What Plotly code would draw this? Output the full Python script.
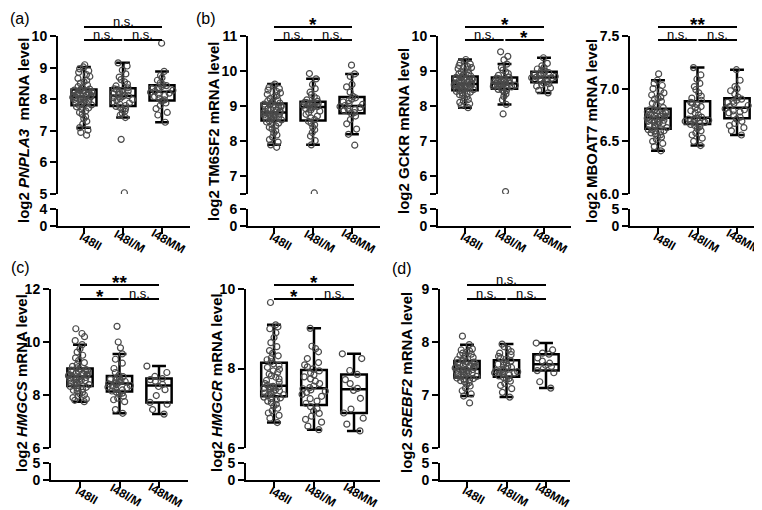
import plotly.graph_objects as go

CATS = ["I48II", "I48I/M", "I48MM"]

# ---------------- data (log2 mRNA levels) ----------------
pnpla3_ii = [6.86, 6.95, 7.02, 7.10, 7.21, 7.30, 7.38, 7.45, 7.52, 7.58, 7.63, 7.68, 7.72, 7.76, 7.80,
             7.82, 7.84, 7.87, 7.89, 7.91, 7.93, 7.95, 7.97, 7.99, 8.00, 8.02, 8.03, 8.04, 8.05, 8.06,
             8.08, 8.10, 8.12, 8.13, 8.15, 8.17, 8.19, 8.20, 8.22, 8.24, 8.25, 8.27, 8.28, 8.29, 8.30,
             8.32, 8.36, 8.40, 8.45, 8.50, 8.55, 8.60, 8.66, 8.72, 8.78, 8.85, 8.90, 8.96, 9.02, 9.09]
pnpla3_im = [5.04, 6.73, 7.42, 7.50, 7.56, 7.62, 7.66, 7.70, 7.74, 7.77,
             7.80, 7.84, 7.88, 7.92, 7.96, 7.99, 8.02, 8.05, 8.07, 8.09,
             8.11, 8.13, 8.16, 8.18, 8.21, 8.23, 8.26, 8.28, 8.31, 8.33,
             8.36, 8.42, 8.48, 8.55, 8.62, 8.70, 8.80, 8.92, 9.05, 9.15]
pnpla3_mm = [7.27, 7.50, 7.58, 7.70, 7.80, 7.88, 7.94, 7.98, 8.03, 8.08, 8.12, 8.16, 8.19, 8.22,
             8.25, 8.28, 8.31, 8.34, 8.37, 8.40, 8.43, 8.46, 8.52, 8.60, 8.68, 8.75, 8.88, 9.77]

tm6sf2_ii = [7.83, 7.90, 7.98, 8.05, 8.12, 8.18, 8.24, 8.30, 8.35, 8.40, 8.44, 8.48, 8.52, 8.55, 8.58,
             8.61, 8.63, 8.65, 8.67, 8.69, 8.70, 8.72, 8.73, 8.75, 8.76, 8.77, 8.78, 8.79, 8.80, 8.81,
             8.83, 8.85, 8.87, 8.89, 8.91, 8.93, 8.95, 8.97, 8.99, 9.00, 9.02, 9.03, 9.05, 9.06, 9.07,
             9.09, 9.12, 9.15, 9.18, 9.22, 9.26, 9.30, 9.34, 9.38, 9.42, 9.46, 9.50, 9.54, 9.58, 9.63]
tm6sf2_im = [6.53, 7.90, 8.02, 8.15, 8.25, 8.33, 8.40, 8.47, 8.52, 8.57,
             8.62, 8.67, 8.72, 8.77, 8.82, 8.86, 8.90, 8.93, 8.95, 8.97,
             8.99, 9.00, 9.02, 9.03, 9.05, 9.06, 9.08, 9.09, 9.10, 9.11,
             9.14, 9.18, 9.22, 9.27, 9.33, 9.40, 9.50, 9.62, 9.78, 9.93]
tm6sf2_mm = [7.89, 8.20, 8.35, 8.50, 8.62, 8.72, 8.78, 8.82, 8.85, 8.88, 8.91, 8.94, 8.96, 8.99,
             9.02, 9.05, 9.08, 9.12, 9.16, 9.20, 9.24, 9.28, 9.40, 9.55, 9.62, 9.85, 9.92, 10.17]

gckr_ii = [7.96, 8.02, 8.07, 8.11, 8.15, 8.19, 8.23, 8.27, 8.30, 8.33, 8.36, 8.38, 8.40, 8.42, 8.44,
           8.47, 8.48, 8.50, 8.51, 8.52, 8.54, 8.55, 8.56, 8.57, 8.58, 8.59, 8.60, 8.61, 8.61, 8.62,
           8.64, 8.65, 8.67, 8.68, 8.70, 8.72, 8.73, 8.75, 8.76, 8.78, 8.79, 8.80, 8.81, 8.82, 8.83,
           8.86, 8.89, 8.92, 8.95, 8.98, 9.01, 9.04, 9.07, 9.10, 9.13, 9.16, 9.20, 9.24, 9.28, 9.33]
gckr_im = [5.57, 7.78, 8.05, 8.18, 8.28, 8.35, 8.40, 8.44, 8.46, 8.48,
           8.51, 8.53, 8.55, 8.57, 8.58, 8.60, 8.61, 8.62, 8.63, 8.64,
           8.66, 8.67, 8.69, 8.71, 8.72, 8.74, 8.76, 8.77, 8.79, 8.80,
           8.83, 8.88, 8.93, 8.98, 9.03, 9.10, 9.20, 9.32, 9.42, 9.55]
gckr_mm = [8.38, 8.45, 8.52, 8.57, 8.61, 8.64, 8.66, 8.70, 8.72, 8.74, 8.76, 8.78, 8.80, 8.81,
           8.83, 8.85, 8.88, 8.90, 8.92, 8.94, 8.96, 9.00, 9.03, 9.06, 9.10, 9.15, 9.22, 9.38]

mboat7_ii = [6.41, 6.45, 6.48, 6.50, 6.52, 6.54, 6.55, 6.56, 6.57, 6.58, 6.59, 6.60, 6.60, 6.61, 6.61,
             6.63, 6.64, 6.65, 6.65, 6.66, 6.67, 6.68, 6.68, 6.69, 6.69, 6.70, 6.70, 6.71, 6.71, 6.72,
             6.73, 6.73, 6.74, 6.74, 6.75, 6.76, 6.76, 6.77, 6.77, 6.78, 6.78, 6.79, 6.79, 6.80, 6.80,
             6.82, 6.84, 6.86, 6.88, 6.90, 6.91, 6.92, 6.94, 6.96, 6.98, 7.00, 7.03, 7.05, 7.08, 7.14]
mboat7_im = [6.46, 6.50, 6.53, 6.56, 6.58, 6.60, 6.62, 6.64, 6.65, 6.66,
             6.67, 6.68, 6.68, 6.69, 6.69, 6.70, 6.70, 6.71, 6.71, 6.72,
             6.73, 6.75, 6.77, 6.79, 6.80, 6.82, 6.83, 6.85, 6.86, 6.87,
             6.89, 6.91, 6.93, 6.96, 6.99, 7.02, 7.05, 7.09, 7.13, 7.20]
mboat7_mm = [6.56, 6.60, 6.63, 6.65, 6.67, 6.69, 6.71, 6.73, 6.75, 6.77, 6.78, 6.79, 6.80, 6.81,
             6.83, 6.84, 6.86, 6.87, 6.88, 6.89, 6.90, 6.92, 6.95, 6.98, 7.00, 7.02, 7.08, 7.18]

hmgcs_ii = [7.75, 7.80, 7.85, 7.90, 7.95, 8.00, 8.05, 8.10, 8.14, 8.18, 8.22, 8.26, 8.29, 8.32,
            8.36, 8.39, 8.42, 8.45, 8.48, 8.51, 8.54, 8.56, 8.58, 8.60, 8.62, 8.64, 8.66, 8.68,
            8.71, 8.73, 8.75, 8.77, 8.79, 8.81, 8.84, 8.86, 8.88, 8.90, 8.92, 8.94, 8.96, 8.98,
            9.02, 9.08, 9.15, 9.22, 9.30, 9.40, 9.50, 9.62, 9.75, 9.90, 10.05, 10.20, 10.32, 10.50]
hmgcs_im = [7.31, 7.45, 7.75, 7.82, 7.88, 7.95, 8.02, 8.07, 8.11,
            8.15, 8.19, 8.23, 8.27, 8.30, 8.33, 8.36, 8.39, 8.42,
            8.45, 8.48, 8.51, 8.54, 8.57, 8.60, 8.63, 8.66, 8.69,
            8.74, 8.85, 9.00, 9.20, 9.35, 9.55, 9.78, 10.00, 10.59]
hmgcs_mm = [7.28, 7.45, 7.65, 7.72, 7.98, 8.20, 8.32, 8.40, 8.52, 8.58, 8.62, 8.70, 8.85, 9.09]

hmgcr_ii = [6.64, 6.75, 6.82, 6.88, 6.94, 7.00, 7.05, 7.10, 7.14, 7.18, 7.21, 7.24, 7.26, 7.28,
            7.32, 7.34, 7.36, 7.38, 7.40, 7.42, 7.44, 7.46, 7.48, 7.50, 7.51, 7.53, 7.54, 7.55,
            7.58, 7.62, 7.66, 7.70, 7.74, 7.78, 7.82, 7.86, 7.90, 7.94, 7.98, 8.03, 8.08, 8.12,
            8.17, 8.22, 8.27, 8.32, 8.38, 8.45, 8.55, 8.65, 8.78, 8.90, 9.00, 9.05, 9.10, 9.66]
hmgcr_im = [6.46, 6.55, 6.65, 6.72, 6.80, 6.87, 6.93, 6.99, 7.04,
            7.12, 7.18, 7.24, 7.30, 7.35, 7.40, 7.43, 7.46, 7.49,
            7.52, 7.56, 7.62, 7.68, 7.74, 7.79, 7.84, 7.89, 7.94,
            7.99, 8.04, 8.09, 8.15, 8.25, 8.42, 8.50, 8.56, 9.01]
hmgcr_mm = [6.43, 6.60, 6.75, 6.88, 6.98, 7.25, 7.45, 7.50, 7.62, 7.72, 7.85, 7.95, 8.25, 8.37]

srebf2_ii = [6.85, 6.98, 7.02, 7.08, 7.13, 7.17, 7.20, 7.23, 7.25, 7.27, 7.29, 7.30, 7.31, 7.32,
             7.34, 7.35, 7.37, 7.38, 7.40, 7.41, 7.42, 7.43, 7.44, 7.45, 7.46, 7.47, 7.48, 7.48,
             7.50, 7.51, 7.52, 7.53, 7.54, 7.55, 7.56, 7.57, 7.58, 7.59, 7.60, 7.61, 7.62, 7.63,
             7.65, 7.67, 7.69, 7.71, 7.73, 7.75, 7.77, 7.79, 7.81, 7.83, 7.85, 7.87, 7.95, 8.11]
srebf2_im = [6.96, 7.05, 7.12, 7.18, 7.22, 7.26, 7.29, 7.31, 7.33,
             7.36, 7.38, 7.40, 7.41, 7.42, 7.43, 7.44, 7.45, 7.46,
             7.48, 7.50, 7.52, 7.54, 7.56, 7.58, 7.60, 7.62, 7.64,
             7.67, 7.70, 7.73, 7.76, 7.79, 7.82, 7.86, 7.91, 7.96]
srebf2_mm = [7.13, 7.25, 7.42, 7.46, 7.50, 7.54, 7.56, 7.60, 7.64, 7.70, 7.77, 7.79, 7.85, 7.98]

# y-axis titles, tick labels and significance labels
titles = ["log2 <i>PNPLA3</i>  mRNA level", "log2 TM6SF2 mRNA level", "log2 GCKR mRNA level",
          "log2 MBOAT7 mRNA level", "log2 <i>HMGCS</i> mRNA level", "log2 <i>HMGCR</i> mRNA level",
          "log2 <i>SREBF2</i> mRNA level"]
upper_ticks = [[5, 6, 7, 8, 9, 10], [6.5, 7, 8, 9, 10, 11], [5.5, 6, 7, 8, 9, 10],
               [6.0, 6.5, 7.0, 7.5], [6, 8, 10, 12], [6, 8, 10], [6, 7, 8, 9]]
upper_ticktext = [["5", "6", "7", "8", "9", "10"], ["", "7", "8", "9", "10", "11"],
                  ["", "6", "7", "8", "9", "10"], ["6.0", "6.5", "7.0", "7.5"],
                  ["6", "8", "10", "12"], ["6", "8", "10"], ["6", "7", "8", "9"]]
lower_top = [4, 6, 5, 5, 5, 5, 5]
sig_all = ["n.s.", "*", "*", "**", "**", "*", "n.s."]
sig_12 = ["n.s.", "n.s.", "n.s.", "n.s.", "*", "*", "n.s."]
sig_23 = ["n.s.", "n.s.", "*", "n.s.", "n.s.", "n.s.", "n.s."]
panel_tags = {0: "(a)", 1: "(b)", 4: "(c)", 6: "(d)"}

groups = [
    (pnpla3_ii, pnpla3_im, pnpla3_mm), (tm6sf2_ii, tm6sf2_im, tm6sf2_mm),
    (gckr_ii, gckr_im, gckr_mm), (mboat7_ii, mboat7_im, mboat7_mm),
    (hmgcs_ii, hmgcs_im, hmgcs_mm), (hmgcr_ii, hmgcr_im, hmgcr_mm),
    (srebf2_ii, srebf2_im, srebf2_mm),
]

# ---------------- layout geometry (pixels) ----------------
W, H = 762, 510
# x0 (y-axis line), x1 (x-axis end), first category centre, category spacing, row
geom = [
    (50, 182, 76, 39.0, 0), (240, 372, 266, 39.0, 0), (430, 563, 457, 39.5, 0),
    (622, 755, 650, 39.5, 0),
    (43, 180, 72, 39.5, 1), (238, 372, 266, 40.0, 1), (432, 562, 459, 39.5, 1),
]
# per row: upper top, upper bottom, lower top, lower bottom (x axis), bracket top, bracket low
rows = [(28, 186, 201, 218, 19, 32), (281, 440, 455, 472, 277, 291)]
title_x = [15, 205, 395, 583, 13, 208, 398]
title_y = [123, 375]
tag_pos = {0: (12, 10), 1: (198, 10), 4: (12, 259), 6: (394, 260)}

FONT = "Liberation Sans, Arial, sans-serif"


def px_x(p):
    return p / W


def px_y(p):
    return 1 - p / H


def aname(prefix, n):
    if n == 1:
        return prefix
    return f"{prefix}{n}"


fig = go.Figure()
layout = {}
annotations = []
shapes = []

for i, (vals3, (x0, x1, c0, sp, r)) in enumerate(zip(groups, geom)):
    xn = i + 1
    ylo = 2 * i + 1
    yup = 2 * i + 2
    ut, ub, lt, lb, btop, blow = rows[r]
    xref = aname("x", xn)

    # empty trace so the lower (0..n) axis segment gets its own subplot
    fig.add_trace(go.Scatter(x=[], y=[], xaxis=xref, yaxis=aname("y", ylo),
                             showlegend=False, hoverinfo="skip"))

    for cat, vals in zip(CATS, vals3):
        fig.add_trace(go.Box(
            x=[cat] * len(vals), y=vals,
            xaxis=xref, yaxis=aname("y", yup),
            boxpoints="all", jitter=1.0, pointpos=0,
            width=0.64, whiskerwidth=0.55,
            fillcolor="white",
            line=dict(color="black", width=2.5),
            marker=dict(symbol="circle-open", size=6, color="#4a4a4a",
                        line=dict(width=1.2)),
            showlegend=False, hoverinfo="y",
        ))

    axline = dict(showline=True, linecolor="black", linewidth=2, ticks="outside",
                  ticklen=6, tickwidth=2, tickcolor="black", showgrid=False,
                  zeroline=False, automargin=False)
    layout[aname("xaxis", xn)] = dict(
        domain=[px_x(x0), px_x(x1)],
        range=[(x0 - c0) / sp, (x1 - c0) / sp],
        type="category", categoryorder="array", categoryarray=CATS,
        tickvals=CATS, showticklabels=False,
        anchor=aname("y", ylo), **axline)
    tickfont = dict(family=FONT, size=14, color="black", weight="bold")
    layout[aname("yaxis", ylo)] = dict(
        domain=[px_y(lb), px_y(lt)], range=[0, lower_top[i]],
        tickvals=[0, lower_top[i]], ticktext=["0", str(lower_top[i])],
        anchor=xref, tickfont=tickfont, **axline)
    ticks = upper_ticks[i]
    layout[aname("yaxis", yup)] = dict(
        domain=[px_y(ub), px_y(ut)], range=[ticks[0], ticks[-1]],
        tickvals=ticks, ticktext=upper_ticktext[i],
        anchor=xref, tickfont=tickfont, **axline)

    # x tick labels (rotated)
    for cat in CATS:
        annotations.append(dict(
            x=cat, xref=xref, y=px_y(lb + 15), yref="paper", text=cat,
            xanchor="center", yanchor="middle",
            textangle=30, xshift=6, showarrow=False,
            font=dict(family=FONT, size=12, color="black", weight="bold")))

    # y title
    annotations.append(dict(
        x=px_x(title_x[i]), y=px_y(title_y[r]), xref="paper", yref="paper",
        xanchor="center", yanchor="middle",
        text=titles[i], textangle=-90, showarrow=False,
        font=dict(family=FONT, size=15, color="black", weight="bold")))

    # significance brackets
    for (a, b, yy) in [(0, 2, btop), (0, 0.98, blow), (1.02, 2, blow)]:
        shapes.append(dict(type="line", xref=xref, yref="paper",
                           x0=a, x1=b, y0=px_y(yy), y1=px_y(yy),
                           line=dict(color="black", width=2)))
    for (xc, yy, txt) in [(1, btop, sig_all[i]), (0.5, blow, sig_12[i]), (1.5, blow, sig_23[i])]:
        if txt.startswith("*"):
            annotations.append(dict(
                x=xc, xref=xref, y=px_y(yy - 3), yref="paper", text=txt,
                xanchor="center", yanchor="middle", showarrow=False,
                font=dict(family=FONT, size=19, color="black", weight="bold")))
        else:
            annotations.append(dict(
                x=xc, xref=xref, y=px_y(yy - 6), yref="paper", text=txt,
                xanchor="center", yanchor="middle", showarrow=False,
                font=dict(family=FONT, size=13, color="black")))

    if i in panel_tags:
        tx, ty = tag_pos[i]
        annotations.append(dict(
            x=px_x(tx), y=px_y(ty), xref="paper", yref="paper", text=panel_tags[i],
            xanchor="center", yanchor="middle",
            showarrow=False, font=dict(family=FONT, size=16, color="black")))

fig.update_layout(
    template="none",
    width=W, height=H, autosize=False,
    margin=dict(l=0, r=0, t=0, b=0, autoexpand=False),
    paper_bgcolor="white", plot_bgcolor="white",
    boxmode="overlay",
    annotations=annotations, shapes=shapes,
    **layout,
)

fig.write_html("out.html")
